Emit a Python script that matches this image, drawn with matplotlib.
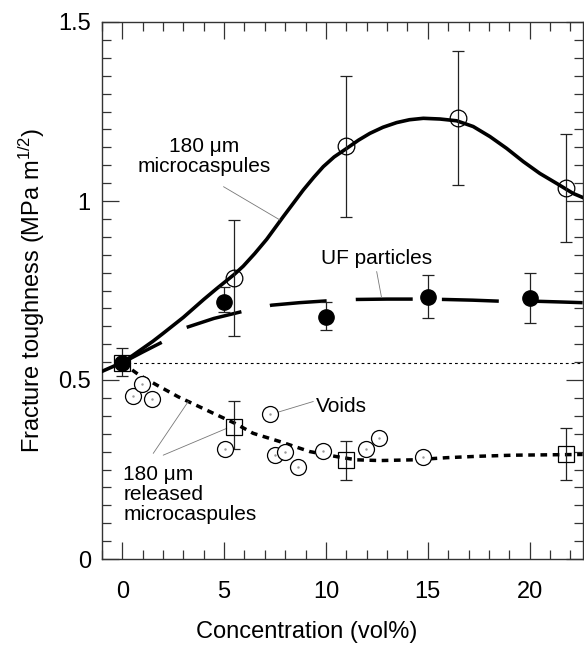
import matplotlib
matplotlib.use("Agg")
import matplotlib.pyplot as plt
from matplotlib.ticker import MultipleLocator

plt.rcParams["font.family"] = ["Liberation Sans", "DejaVu Sans"]
plt.rcParams["mathtext.fontset"] = "custom"
plt.rcParams["mathtext.rm"] = "Liberation Sans"
plt.rcParams["mathtext.it"] = "Liberation Sans:italic"
plt.rcParams["lines.scale_dashes"] = False

# 180 um microcapsules (open circles)
conc_caps = [5.5, 11.0, 16.5, 21.8]
kic_caps = [0.786, 1.154, 1.233, 1.035]
caps_lo = [0.624, 0.956, 1.045, 0.886]
caps_hi = [0.948, 1.350, 1.420, 1.186]

# UF particles (filled circles)
conc_uf = [0, 5, 10, 15, 20]
kic_uf = [0.548, 0.717, 0.677, 0.733, 0.730]
uf_lo = [0.548, 0.690, 0.640, 0.672, 0.658]
uf_hi = [0.548, 0.760, 0.719, 0.792, 0.800]

# 180 um released microcapsules (squares)
conc_rel = [0, 5.5, 11.0, 21.8]
kic_rel = [0.548, 0.370, 0.277, 0.292]
rel_lo = [0.511, 0.307, 0.221, 0.221]
rel_hi = [0.590, 0.440, 0.330, 0.365]

# voids
conc_void = [0.54, 0.98, 1.44, 5.04, 7.25, 7.50, 7.99, 8.64, 9.87, 11.96, 12.6, 14.78]
kic_void = [0.455, 0.488, 0.447, 0.307, 0.404, 0.290, 0.298, 0.258, 0.303, 0.306, 0.339, 0.286]

# fitted trend lines
fit_caps_x = [-1, 0, 0.5, 1, 1.5, 2, 3, 4, 4.63, 5.5, 5.94, 6.5, 7.09, 7.9, 8.89,
              9.4, 9.87, 10.4, 11.02, 11.6, 12.16, 12.8, 13.47, 14.1, 14.78, 15.6,
              16.42, 17.23, 18.05, 18.87, 19.69, 20.5, 21.33, 22.14, 22.6]
fit_caps_y = [0.524, 0.549, 0.568, 0.588, 0.608, 0.630, 0.675, 0.725, 0.755, 0.795,
              0.818, 0.853, 0.893, 0.956, 1.031, 1.066, 1.096, 1.123, 1.147, 1.170,
              1.189, 1.206, 1.219, 1.227, 1.231, 1.229, 1.224, 1.208, 1.180, 1.147,
              1.110, 1.077, 1.049, 1.021, 1.010]

fit_uf_x = [0, 1, 2, 2.5, 3.16, 4.5, 5.94, 7.33, 8.7, 10.03, 11.5, 13, 14.3, 15.8,
            17.2, 18.6, 20.3, 21.5, 22.6]
fit_uf_y = [0.548, 0.578, 0.607, 0.622, 0.647, 0.672, 0.692, 0.709, 0.716, 0.721,
            0.725, 0.726, 0.726, 0.725, 0.723, 0.720, 0.720, 0.718, 0.716]

fit_rel_x = [0, 0.8, 1.69, 2.75, 4.47, 5.53, 6.43, 7.74, 9.21, 10.52, 11.5, 12.65,
             14.3, 15.93, 17.5, 19.2, 22.6]
fit_rel_y = [0.548, 0.515, 0.486, 0.453, 0.407, 0.379, 0.351, 0.328, 0.300, 0.286,
             0.277, 0.275, 0.277, 0.283, 0.287, 0.290, 0.292]

neat_level = 0.548

fig = plt.figure(figsize=(5.84, 6.46), dpi=100)
ax = fig.add_axes([101.9 / 584, 87 / 646, 480.7 / 584, 537 / 646])

# trend lines
ax.plot(fit_caps_x, fit_caps_y, color="black", lw=2.6, zorder=3)
ax.plot(fit_uf_x, fit_uf_y, color="black", lw=2.5, ls=(9, (41, 21)), zorder=3)
ax.plot(fit_rel_x, fit_rel_y, color="black", lw=2.5, ls=(0, (4.8, 4)), zorder=3)
ax.axhline(neat_level, xmin=1 / 23.6, color="black", lw=0.8, ls=(0, (2, 2.2)), zorder=2)

ekw = dict(fmt="none", ecolor="#222222", elinewidth=0.9, capsize=4.5, capthick=0.9, zorder=4)
ax.errorbar(conc_caps, kic_caps,
            yerr=[[k - l for k, l in zip(kic_caps, caps_lo)],
                  [h - k for k, h in zip(kic_caps, caps_hi)]], **ekw)
ax.errorbar(conc_uf, kic_uf,
            yerr=[[k - l for k, l in zip(kic_uf, uf_lo)],
                  [h - k for k, h in zip(kic_uf, uf_hi)]], **ekw)
ax.errorbar(conc_rel, kic_rel,
            yerr=[[k - l for k, l in zip(kic_rel, rel_lo)],
                  [h - k for k, h in zip(kic_rel, rel_hi)]], **ekw)

ax.plot(conc_caps, kic_caps, "o", ms=12, mfc="none", mec="black", mew=0.9, zorder=5)
ax.plot(conc_rel, kic_rel, "s", ms=11.5, mfc="none", mec="black", mew=0.9, zorder=5)
ax.plot(conc_uf, kic_uf, "o", ms=11, mfc="black", mec="black", zorder=6)
ax.plot(conc_void, kic_void, "o", ms=11.5, mfc="white", mec="black", mew=0.9, zorder=5)
ax.plot(conc_void, kic_void, ".", ms=1.5, color="#999999", zorder=6)

# labels with leader lines
lead = dict(arrowstyle="-", color="#777777", lw=0.6, shrinkA=0, shrinkB=0)
ax.text(4.0, 1.125, "180 μm\nmicrocaspules", fontsize=15, ha="center", va="center",
        linespacing=1.05)
ax.annotate("", xy=(7.74, 0.947), xytext=(4.97, 1.04), arrowprops=lead)

ax.text(12.49, 0.84, "UF particles", fontsize=15, ha="center", va="center")
ax.annotate("", xy=(12.73, 0.73), xytext=(12.49, 0.803), arrowprops=lead)

ax.text(9.5, 0.427, "Voids", fontsize=15, ha="left", va="center")
ax.annotate("", xy=(7.58, 0.409), xytext=(9.38, 0.44), arrowprops=lead)

ax.text(0.05, 0.18, "180 μm\nreleased\nmicrocaspules", fontsize=15, ha="left",
        va="center", linespacing=1.05)
ax.annotate("", xy=(3.24, 0.44), xytext=(1.52, 0.295), arrowprops=lead)
ax.annotate("", xy=(5.13, 0.365), xytext=(2.01, 0.29), arrowprops=lead)

ax.set_xlim(-1, 22.6)
ax.set_ylim(0, 1.5)
ax.xaxis.set_minor_locator(MultipleLocator(1))
ax.yaxis.set_minor_locator(MultipleLocator(0.05))
ax.set_xticks([0, 5, 10, 15, 20])
ax.set_xticklabels(["0", "5", "10", "15", "20"])
ax.set_yticks([0, 0.5, 1, 1.5])
ax.set_yticklabels(["0", "0.5", "1", "1.5"])
ax.tick_params(which="both", direction="in", top=True, right=True, width=0.9,
               color="#333333", labelsize=17)
ax.tick_params(which="major", length=12)
ax.tick_params(which="minor", length=6.5)
ax.tick_params(axis="x", pad=16)
ax.tick_params(axis="y", pad=8)
for s in ax.spines.values():
    s.set_linewidth(1.0)
    s.set_color("#333333")

ax.set_xlabel("Concentration (vol%)", fontsize=17)
ax.xaxis.set_label_coords(0.426, -0.115)
ax.set_ylabel("Fracture toughness (MPa m$^{\\mathrm{1/2}}$)", fontsize=17, labelpad=8)

fig.savefig("out.png", dpi=100)
